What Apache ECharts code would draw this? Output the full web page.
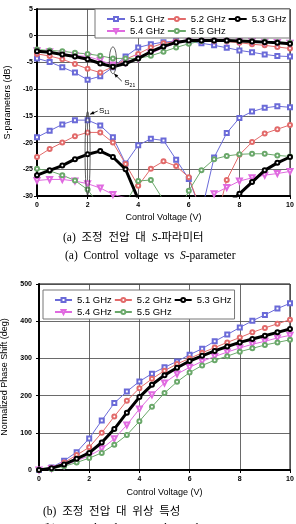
<!DOCTYPE html>
<html>
<head>
<meta charset="utf-8" />
<script src="https://cdn.jsdelivr.net/npm/echarts@6/dist/echarts.min.js"></script>
<style>
  html, body { margin: 0; padding: 0; background: #fff; }
</style>
</head>
<body>
<div id="main" style="width: 296px;height:524px;"></div>
<script>
    // control voltage steps (V)
    var volts = [0, 0.5, 1, 1.5, 2, 2.5, 3, 3.5, 4, 4.5, 5, 5.5, 6, 6.5, 7, 7.5, 8, 8.5, 9, 9.5, 10];
    var names = ['5.1 GHz', '5.2 GHz', '5.3 GHz', '5.4 GHz', '5.5 GHz'];
    var colors = ['#6a6ad8', '#e26a6a', '#000000', '#e06ae0', '#6aa86a'];
    var symbols = ['emptyRect', 'emptyCircle', 'emptyCircle', 'emptyTriangle', 'emptyCircle'];

    // S21 (dB)
    var s21_51 = [-4.25, -4.9, -5.9, -6.9, -8.25, -7.6, -5.9, -3.9, -2.2, -1.6, -1.2, -1.0, -1.1, -1.4, -1.8, -2.25, -2.75, -3.1, -3.5, -3.8, -3.9];
    var s21_52 = [-3.4, -3.8, -4.4, -5.3, -6.2, -6.9, -5.8, -4.4, -3.4, -2.2, -1.4, -1.1, -0.9, -0.9, -1.0, -1.1, -1.3, -1.6, -1.8, -2.1, -2.4];
    var s21_53 = [-2.9, -3.1, -3.5, -3.9, -4.4, -5.2, -5.8, -5.2, -4.25, -3.0, -2.0, -1.25, -0.9, -0.9, -0.9, -0.9, -1.0, -1.1, -1.2, -1.3, -1.5];
    var s21_54 = [-2.8, -3.0, -3.4, -3.7, -3.9, -4.6, -5.5, -5.0, -4.25, -3.3, -2.25, -1.4, -1.0, -0.9, -0.95, -1.0, -1.05, -1.1, -1.2, -1.25, -1.4];
    var s21_55 = [-2.6, -2.75, -2.9, -3.2, -3.4, -3.75, -4.25, -4.25, -4.25, -3.75, -3.0, -2.2, -1.5, -1.0, -0.9, -0.95, -1.0, -1.05, -1.1, -1.2, -1.3];

    // S11 (dB), values under -30 fall outside the plot
    var s11_51 = [-19.0, -17.8, -16.6, -15.8, -15.8, -16.8, -19.0, -23.9, -20.5, -19.3, -19.6, -23.2, -26.8, -33, -22.8, -18.2, -15.4, -14.2, -13.5, -13.2, -13.4];
    var s11_52 = [-22.7, -21.2, -20.0, -18.8, -18.1, -18.1, -20.0, -24.0, -28.1, -24.9, -23.5, -24.4, -26.5, -33, -36, -27.0, -22.3, -19.9, -18.3, -17.5, -16.7];
    var s11_53 = [-26.1, -25.2, -24.3, -23.1, -22.2, -21.6, -22.7, -25.0, -30.6, null, null, null, null, null, null, -31.6, -29.6, -27.4, -25.2, -23.8, -22.7];
    var s11_54 = [-27.1, -26.9, -26.9, -27.2, -27.7, -28.5, -29.7, -30.3, null, null, null, null, null, null, -29.6, -28.4, -27.2, -26.6, -26.1, -25.8, -25.4];
    var s11_55 = [-24.9, -25.3, -26.1, -27.1, -28.8, -32, null, -31.4, -27.2, -27.0, -30.8, -34, -29.0, -25.2, -23.1, -22.5, -22.2, -22.1, -22.1, -22.4, -22.6];

    // normalized phase shift (deg)
    var ph_51 = [0, 7, 25, 48, 85, 133, 180, 211, 238, 259, 276, 292, 310, 326, 346, 364, 383, 401, 417, 434, 448];
    var ph_52 = [0, 6, 20, 40, 61, 100, 144, 186, 220, 245, 267, 285, 300, 315, 329, 343, 356, 370, 382, 393, 404];
    var ph_53 = [0, 5, 15, 30, 46, 74, 110, 154, 196, 229, 255, 275, 293, 307, 320, 332, 343, 352, 361, 370, 379];
    var ph_54 = [0, 4, 12, 25, 38, 57, 84, 121, 164, 202, 234, 258, 276, 292, 305, 317, 328, 338, 346, 355, 362];
    var ph_55 = [0, 3, 10, 20, 32, 46, 68, 94, 131, 170, 207, 237, 262, 281, 295, 306, 318, 327, 336, 343, 350];

    // annotation marks: ellipse centre [V, dB], half size [V, dB]; label position
    var s21Mark = [3.0, -4.6], s21Half = [0.14, 2.5], s21Text = [3.45, -8.8];
    var s11Mark = [2.0, -22.0], s11Half = [0.1, 7.8], s11Text = [2.45, -14.0];

    var font = 'Liberation Sans';
    var serif = 'Liberation Serif, Noto Sans CJK KR';

    var chartDom = document.getElementById('main');
    var myChart = echarts.init(chartDom);

    function mkSeries(arr, i, gi) {
        return {
            name: names[i],
            type: 'line',
            xAxisIndex: gi,
            yAxisIndex: gi,
            data: volts.map(function(v, k) { return [v, arr[k]]; }),
            symbol: symbols[i],
            symbolSize: i == 3 ? 5 : 4,
            symbolRotate: i == 3 ? 180 : 0,
            clip: true,
            lineStyle: { color: colors[i], width: i == 2 ? 3 : 1 },
            itemStyle: { color: colors[i], borderColor: colors[i], borderWidth: 0.7 },
            emphasis: { disabled: true },
            z: i == 2 ? 4 : 3
        };
    }

    function xAx(gi, nameGap, margin) {
        return {
            type: 'value', gridIndex: gi, min: 0, max: 10, interval: 2,
            name: 'Control Voltage (V)', nameLocation: 'middle', nameGap: nameGap,
            nameTextStyle: { fontFamily: font, fontSize: 9, color: '#000' },
            axisLine: { show: true, onZero: false, lineStyle: { color: '#000', width: 2 } },
            axisTick: { show: true, inside: false, length: 3, lineStyle: { color: '#000', width: 1 } },
            axisLabel: { margin: margin, fontFamily: font, fontSize: 7, fontWeight: 'bold', color: '#000' },
            splitLine: { show: true, lineStyle: { color: '#444', width: 0.8 } }
        };
    }

    function yAx(gi, name, min, max, step, nameGap, margin) {
        return {
            type: 'value', gridIndex: gi, min: min, max: max, interval: step,
            name: name, nameLocation: 'middle', nameGap: nameGap, nameRotate: 90,
            nameTextStyle: { fontFamily: font, fontSize: 9, color: '#000' },
            axisLine: { show: true, onZero: false, lineStyle: { color: '#000', width: 2 } },
            axisTick: { show: true, inside: false, length: 3, lineStyle: { color: '#000', width: 1 } },
            axisLabel: { margin: margin, fontFamily: font, fontSize: 7, fontWeight: 'bold', color: '#000' },
            splitLine: { show: true, lineStyle: { color: '#444', width: 0.8 } }
        };
    }

    function mkLegend(left, top, itemWidth) {
        return {
            data: names,
            left: left,
            top: top,
            width: 182,
            orient: 'horizontal',
            itemWidth: itemWidth,
            itemHeight: 5,
            itemGap: 2,
            padding: [5, 3, 2, 11],
            borderColor: '#777',
            borderWidth: 1,
            backgroundColor: '#fff',
            selectedMode: false,
            textStyle: { fontFamily: font, fontSize: 9.5, color: '#000' }
        };
    }

    var series = [];
    [s21_51, s21_52, s21_53, s21_54, s21_55].forEach(function(a, i) { series.push(mkSeries(a, i, 0)); });
    [s11_51, s11_52, s11_53, s11_54, s11_55].forEach(function(a, i) { series.push(mkSeries(a, i, 0)); });
    [ph_51, ph_52, ph_53, ph_54, ph_55].forEach(function(a, i) { series.push(mkSeries(a, i, 1)); });

    var option = {
        animation: false,
        backgroundColor: '#fff',
        grid: [
            { left: 37, top: 9, width: 253, height: 187, show: true, borderColor: '#000', borderWidth: 1, outerBoundsMode: 'none' },
            { left: 39, top: 284, width: 251, height: 186, show: true, borderColor: '#000', borderWidth: 1, outerBoundsMode: 'none' }
        ],
        xAxis: [xAx(0, 17, 6), xAx(1, 18, 6)],
        yAxis: [
            yAx(0, 'S-parameters (dB)', -30, 5, 5, 24, 4),
            yAx(1, 'Normalized Phase Shift (deg)', 0, 500, 100, 26, 7)
        ],
        legend: [mkLegend(95, 9, 18), mkLegend(43, 290, 17)],
        series: series
    };
    myChart.setOption(option);

    function px(p) {
        return myChart.convertToPixel({ xAxisIndex: 0, yAxisIndex: 0 }, p);
    }

    function ellipse(c, h) {
        var ctr = px(c);
        var edge = px([c[0] + h[0], c[1] + h[1]]);
        var rx = Math.abs(edge[0] - ctr[0]), ry = Math.abs(edge[1] - ctr[1]);
        var pts = [];
        for (var k = 0; k < 48; k++) {
            var a = k / 48 * Math.PI * 2;
            pts.push([ctr[0] + rx * Math.cos(a), ctr[1] + ry * Math.sin(a)]);
        }
        return { type: 'polygon', shape: { points: pts }, style: { fill: 'none', stroke: '#333', lineWidth: 0.8 }, z: 20 };
    }

    function arrow(from, to) {
        // line from label towards ellipse, head at ellipse end
        var a = px(from), b = px(to);
        var ang = Math.atan2(b[1] - a[1], b[0] - a[0]);
        var hl = 4, hw = 1.8;
        var head = [
            b,
            [b[0] - hl * Math.cos(ang) + hw * Math.sin(ang), b[1] - hl * Math.sin(ang) - hw * Math.cos(ang)],
            [b[0] - hl * Math.cos(ang) - hw * Math.sin(ang), b[1] - hl * Math.sin(ang) + hw * Math.cos(ang)]
        ];
        return [
            { type: 'line', shape: { x1: a[0], y1: a[1], x2: b[0], y2: b[1] }, style: { stroke: '#000', lineWidth: 0.8 }, z: 20 },
            { type: 'polygon', shape: { points: head }, style: { fill: '#000' }, z: 20 }
        ];
    }

    function sLabel(p, sub) {
        var q = px(p);
        return {
            type: 'text', x: q[0], y: q[1], z: 20,
            style: {
                text: '{s|S}{b|' + sub + '}',
                verticalAlign: 'middle',
                rich: {
                    s: { fontFamily: font, fontSize: 8, fill: '#000' },
                    b: { fontFamily: font, fontSize: 5, fill: '#000', padding: [5, 0, 0, 0] }
                }
            }
        };
    }

    function caption(x, y, txt) {
        return {
            type: 'text', x: x, y: y,
            style: {
                text: txt,
                verticalAlign: 'middle',
                rich: {
                    n: { fontFamily: serif, fontSize: 11.5, fill: '#000' },
                    i: { fontFamily: serif, fontSize: 11.5, fontStyle: 'italic', fill: '#000' }
                }
            }
        };
    }

    var g = [];
    g.push(ellipse(s21Mark, s21Half));
    g.push(ellipse(s11Mark, s11Half));
    g = g.concat(arrow([s21Text[0] - 0.1, s21Text[1] + 0.3], [s21Mark[0] + 0.05, s21Mark[1] - s21Half[1]]));
    g = g.concat(arrow([s11Text[0] - 0.05, s11Text[1] - 0.1], [s11Mark[0] + 0.1, s11Mark[1] + s11Half[1] - 0.5]));
    g.push(sLabel(s21Text, '21'));
    g.push(sLabel(s11Text, '11'));
    g.push(caption(63, 238, '{n|(a)  조정  전압  대  }{i|S}{n|-파라미터}'));
    g.push(caption(65, 256, '{n|(a)  Control  voltage  vs  }{i|S}{n|-parameter}'));
    g.push(caption(43, 512, '{n|(b)  조정  전압  대  위상  특성}'));
    g.push(caption(43, 529, '{n|(b)  Control  voltage  vs  phase  characteristics}'));

    myChart.setOption({ graphic: g });
</script>
</body>
</html>
